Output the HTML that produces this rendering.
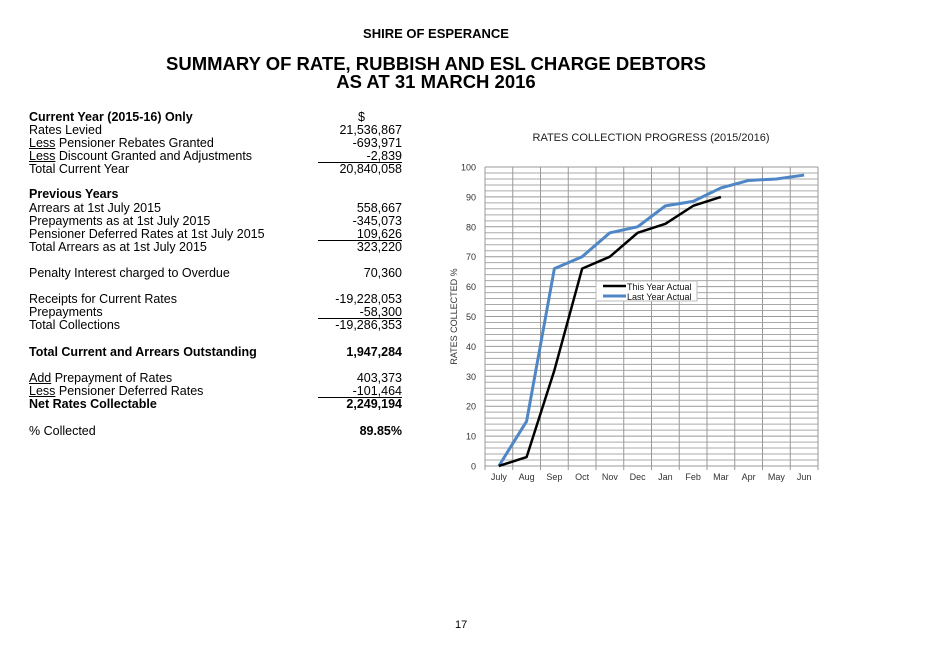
<!DOCTYPE html>
<html><head><meta charset="utf-8"><style>
body{margin:0;width:928px;height:656px;background:#fff;position:relative;overflow:hidden;font-family:"Liberation Sans Narrow","Liberation Sans",sans-serif;color:#000}
.t{position:absolute;font-size:12.5px;white-space:nowrap;line-height:13px}
.r{text-align:right;right:526px}
.b{font-weight:bold}
.u{text-decoration:underline}
.ln{position:absolute;left:318px;width:84px;border-top:1.5px solid #000}
</style></head><body>
<div class="t b" style="left:0;width:872px;text-align:center;top:27px;font-size:13px">SHIRE OF ESPERANCE</div>
<div class="t b" style="left:0;width:872px;text-align:center;top:55px;font-size:18.5px;line-height:18px">SUMMARY OF RATE, RUBBISH AND ESL CHARGE DEBTORS<br>AS AT 31 MARCH 2016</div>
<div>
<div class="t b" style="left:29px;top:111px">Current Year (2015-16) Only</div><div class="t" style="left:358px;top:111px">$</div>
<div class="t" style="left:29px;top:124px">Rates Levied</div><div class="t r" style="top:124px">21,536,867</div>
<div class="t" style="left:29px;top:137px"><span class="u">Less</span> Pensioner Rebates Granted</div><div class="t r" style="top:137px">-693,971</div>
<div class="t" style="left:29px;top:150px"><span class="u">Less</span> Discount Granted and Adjustments</div><div class="t r" style="top:150px">-2,839</div>
<div class="ln" style="top:162px"></div>
<div class="t" style="left:29px;top:163px">Total Current Year</div><div class="t r" style="top:163px">20,840,058</div>
<div class="t b" style="left:29px;top:188px">Previous Years</div>
<div class="t" style="left:29px;top:202px">Arrears at 1st July 2015</div><div class="t r" style="top:202px">558,667</div>
<div class="t" style="left:29px;top:215px">Prepayments as at 1st July 2015</div><div class="t r" style="top:215px">-345,073</div>
<div class="t" style="left:29px;top:228px">Pensioner Deferred Rates at 1st July 2015</div><div class="t r" style="top:228px">109,626</div>
<div class="ln" style="top:240px"></div>
<div class="t" style="left:29px;top:241px">Total Arrears as at 1st July 2015</div><div class="t r" style="top:241px">323,220</div>
<div class="t" style="left:29px;top:267px">Penalty Interest charged to Overdue</div><div class="t r" style="top:267px">70,360</div>
<div class="t" style="left:29px;top:293px">Receipts for Current Rates</div><div class="t r" style="top:293px">-19,228,053</div>
<div class="t" style="left:29px;top:306px">Prepayments</div><div class="t r" style="top:306px">-58,300</div>
<div class="ln" style="top:318px"></div>
<div class="t" style="left:29px;top:319px">Total Collections</div><div class="t r" style="top:319px">-19,286,353</div>
<div class="t b" style="left:29px;top:346px">Total Current and Arrears Outstanding</div><div class="t r b" style="top:346px">1,947,284</div>
<div class="t" style="left:29px;top:372px"><span class="u">Add</span> Prepayment of Rates</div><div class="t r" style="top:372px">403,373</div>
<div class="t" style="left:29px;top:385px"><span class="u">Less</span> Pensioner Deferred Rates</div><div class="t r" style="top:385px">-101,464</div>
<div class="ln" style="top:397px"></div>
<div class="t b" style="left:29px;top:398px">Net Rates Collectable</div><div class="t r b" style="top:398px">2,249,194</div>
<div class="t" style="left:29px;top:425px">% Collected</div><div class="t r b" style="top:425px">89.85%</div>
</div>
<svg id="chart" width="928" height="656" style="position:absolute;left:0;top:0;font-family:'Liberation Sans',sans-serif"></svg>
<div class="t" style="left:455px;top:619px;font-size:11px;font-family:'Liberation Sans',sans-serif">17</div>
<script>
const months=["July","Aug","Sep","Oct","Nov","Dec","Jan","Feb","Mar","Apr","May","Jun"];
const thisYear=[0,3,32,66,70,78,81,87,90];
const lastYear=[0,15,66,70,78,80,87,88.5,93,95.5,96,97.3];
const yTicks=[0,10,20,30,40,50,60,70,80,90,100];
const svg=document.getElementById('chart');
const NS='http://www.w3.org/2000/svg';
const L=485,R=818,T=167,B=466;
const bw=(R-L)/months.length;
const x=i=>L+bw*(i+0.5);
const y=v=>B-(v/100)*(B-T);
function mk(tag,a,txt){const e=document.createElementNS(NS,tag);for(const k in a)e.setAttribute(k,a[k]);if(txt!==undefined)e.textContent=txt;svg.appendChild(e);return e;}
let e=mk('text',{x:651,y:141,'font-size':11,'text-anchor':'middle',fill:'#222'},'RATES COLLECTION PROGRESS (2015/2016)');


for(let v=0;v<=100;v+=2){const l=mk('line',{x1:L,x2:R,y1:y(v),y2:y(v),stroke:v%10===0?'#999':'#aaa','stroke-width':1});

}
for(let i=0;i<=months.length;i++){const l=mk('line',{x1:L+bw*i,x2:L+bw*i,y1:T,y2:B+4,stroke:'#999','stroke-width':1});

}
yTicks.forEach(v=>{const t=mk('text',{x:L-9,y:y(v)+3.5,'font-size':9,'text-anchor':'end',fill:'#333'},v);

});
months.forEach((m,i)=>{const t=mk('text',{x:x(i),y:B+14,'font-size':9,'text-anchor':'middle',fill:'#333'},m);

});
e=mk('text',{x:0,y:0,'font-size':9,'text-anchor':'middle',fill:'#333',transform:`translate(457,${(T+B)/2}) rotate(-90)`},'RATES COLLECTED %');


e=mk('polyline',{points:lastYear.map((v,i)=>x(i)+','+y(v)).join(' '),fill:'none',stroke:'#4f86c6','stroke-width':3,'stroke-linejoin':'round'});


e=mk('polyline',{points:thisYear.map((v,i)=>x(i)+','+y(v)).join(' '),fill:'none',stroke:'#000','stroke-width':2.5,'stroke-linejoin':'round'});


e=mk('rect',{x:596,y:281,width:101,height:20,fill:'#fff',stroke:'#bbb'});


mk('line',{x1:603,x2:626,y1:286,y2:286,stroke:'#000','stroke-width':2.5});
e=mk('text',{x:627,y:290,'font-size':9,fill:'#111'},'This Year Actual');


mk('line',{x1:603,x2:626,y1:296,y2:296,stroke:'#4f86c6','stroke-width':3});
e=mk('text',{x:627,y:300,'font-size':9,fill:'#111'},'Last Year Actual');


</script>
</body></html>
